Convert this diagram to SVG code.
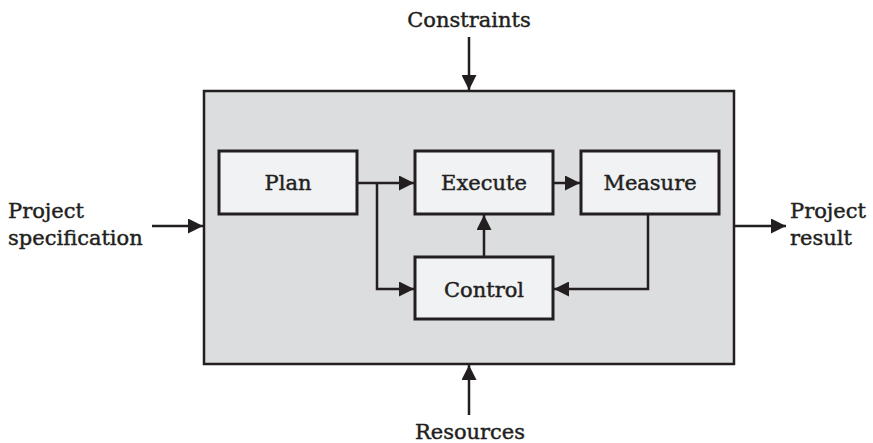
<svg xmlns="http://www.w3.org/2000/svg" width="873" height="443" viewBox="0 0 873 443">
  <style>
    .frame { fill: #dcdddf; stroke: #231f20; stroke-width: 2.5; }
    .step { fill: #f1f2f4; stroke: #231f20; stroke-width: 3; }
    .label { font-family: "DejaVu Serif", "Liberation Serif", serif; font-size: 21px; fill: #231f20; stroke: #231f20; stroke-width: 0.45; }
    .mid { text-anchor: middle; }
    .wire { fill: none; stroke: #231f20; stroke-width: 2.5; marker-end: url(#head); }
  </style>
  <defs>
    <marker id="head" markerUnits="userSpaceOnUse" markerWidth="15" markerHeight="15" refX="15" refY="7.5" orient="auto">
      <path d="M0,0 L15,7.5 L0,15 z" fill="#231f20"/>
    </marker>
  </defs>
  <rect width="873" height="443" fill="#ffffff"/>

  <!-- enclosing process boundary -->
  <g id="process">
    <rect class="frame" x="204" y="91" width="530" height="273"/>
  </g>

  <!-- inputs and outputs -->
  <g id="constraints">
    <text class="label mid" x="469" y="27">Constraints</text>
  </g>
  <g id="resources">
    <text class="label mid" x="470" y="439">Resources</text>
  </g>
  <g id="specification">
    <text class="label" x="8" y="218">Project</text>
    <text class="label" x="8" y="245">specification</text>
  </g>
  <g id="result">
    <text class="label" x="790" y="218">Project</text>
    <text class="label" x="790" y="245">result</text>
  </g>

  <!-- steps of the cycle -->
  <g id="plan">
    <rect class="step" x="219" y="151" width="138" height="63"/>
    <text class="label mid" x="288" y="190">Plan</text>
  </g>
  <g id="execute">
    <rect class="step" x="415" y="151" width="138" height="63"/>
    <text class="label mid" x="484" y="190">Execute</text>
  </g>
  <g id="measure">
    <rect class="step" x="581" y="151" width="138" height="63"/>
    <text class="label mid" x="650" y="190">Measure</text>
  </g>
  <g id="control">
    <rect class="step" x="415" y="257" width="138" height="62"/>
    <text class="label mid" x="484" y="297">Control</text>
  </g>

  <!-- connectors -->
  <g id="connectors">
    <path class="wire" d="M469,37 V90"/>
    <path class="wire" d="M469,415 V365"/>
    <path class="wire" d="M152,226 H203"/>
    <path class="wire" d="M735,226 H786"/>
    <path class="wire" d="M357,183 H414"/>
    <path class="wire" d="M377,183 V289 H414"/>
    <path class="wire" d="M553,183 H580"/>
    <path class="wire" d="M484,256 V215"/>
    <path class="wire" d="M648,214 V289 H554"/>
  </g>
</svg>
